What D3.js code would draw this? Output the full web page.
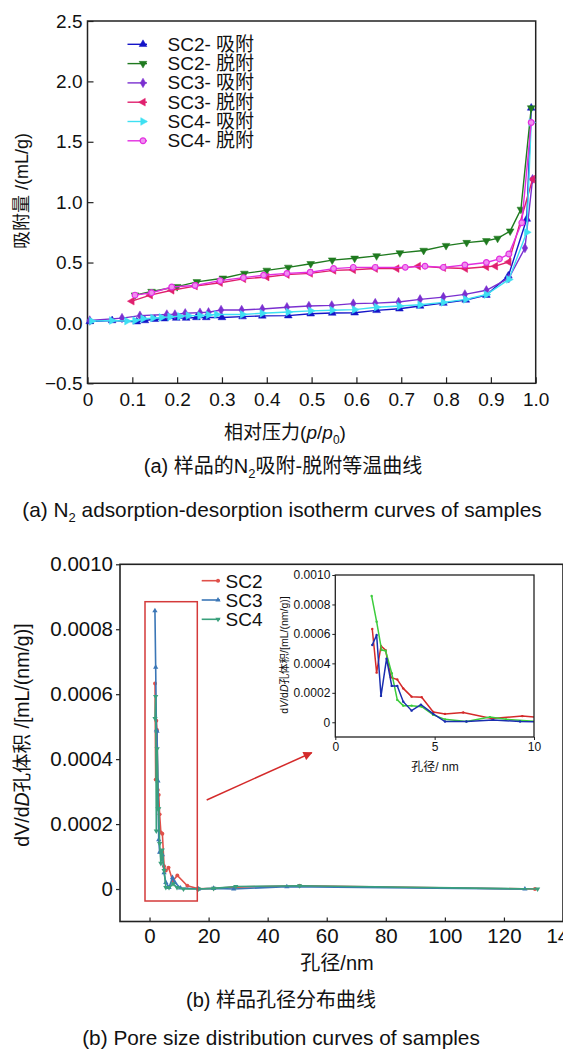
<!DOCTYPE html>
<html><head><meta charset="utf-8">
<script src="https://cdn.jsdelivr.net/npm/d3@7"></script>
<style>
body{margin:0;background:#fff;}
text{font-family:"Liberation Sans",Arial,"Noto Sans CJK SC",sans-serif;fill:#111;}
</style></head>
<body><svg id="c" width="563" height="1057"></svg>
<script>
// ---------- Data: (a) N2 isotherms ----------
const sc2AdsP = [0.005,0.055,0.11,0.128,0.15,0.172,0.198,0.22,0.243,0.265,0.30,0.346,0.39,0.448,0.498,0.546,0.596,0.645,0.696,0.742,0.794,0.844,0.89,0.939,0.98,0.99];
const sc2AdsV = [0.012,0.02,0.01,0.02,0.03,0.035,0.04,0.04,0.045,0.045,0.045,0.052,0.058,0.06,0.076,0.082,0.084,0.104,0.117,0.14,0.164,0.19,0.23,0.39,0.86,1.78];
const sc2DesP = [0.99,0.967,0.943,0.915,0.89,0.846,0.80,0.75,0.697,0.645,0.596,0.546,0.498,0.448,0.40,0.35,0.302,0.244,0.20,0.143,0.106];
const sc2DesV = [1.78,0.94,0.76,0.70,0.68,0.665,0.64,0.60,0.58,0.555,0.535,0.52,0.49,0.46,0.435,0.41,0.37,0.34,0.30,0.26,0.23];
const sc3AdsP = [0.005,0.077,0.117,0.177,0.195,0.218,0.251,0.27,0.298,0.344,0.39,0.445,0.494,0.545,0.593,0.642,0.694,0.742,0.794,0.842,0.89,0.94,0.976,0.993];
const sc3AdsV = [0.02,0.04,0.06,0.07,0.07,0.08,0.085,0.088,0.107,0.107,0.115,0.13,0.14,0.145,0.16,0.164,0.173,0.195,0.214,0.236,0.27,0.37,0.62,1.19];
const sc3DesP = [0.993,0.94,0.91,0.89,0.843,0.794,0.738,0.69,0.642,0.593,0.549,0.497,0.445,0.40,0.348,0.296,0.24,0.188,0.14,0.099];
const sc3DesV = [1.19,0.505,0.47,0.465,0.45,0.457,0.47,0.45,0.45,0.44,0.435,0.41,0.40,0.38,0.365,0.333,0.305,0.27,0.23,0.18];
const sc4AdsP = [0.009,0.054,0.088,0.106,0.124,0.146,0.165,0.184,0.206,0.225,0.251,0.27,0.288,0.346,0.39,0.448,0.498,0.546,0.596,0.645,0.696,0.742,0.794,0.844,0.89,0.94,0.98,0.99];
const sc4AdsV = [0.015,0.02,0.015,0.02,0.035,0.04,0.045,0.05,0.055,0.06,0.06,0.066,0.07,0.07,0.08,0.09,0.1,0.105,0.11,0.13,0.14,0.15,0.17,0.195,0.235,0.36,0.75,1.66];
const sc4DesP = [0.99,0.969,0.94,0.919,0.89,0.842,0.794,0.753,0.709,0.642,0.593,0.549,0.497,0.445,0.393,0.348,0.296,0.24,0.188,0.143,0.106];
const sc4DesV = [1.66,0.83,0.57,0.53,0.50,0.48,0.46,0.47,0.46,0.46,0.46,0.45,0.42,0.41,0.395,0.375,0.35,0.31,0.297,0.25,0.23];
const isoNames = ["SC2- 吸附","SC2- 脱附","SC3- 吸附","SC3- 脱附","SC4- 吸附","SC4- 脱附"];
const xTicksA = [0,0.1,0.2,0.3,0.4,0.5,0.6,0.7,0.8,0.9,1.0];
const yTicksA = [-0.5,0,0.5,1.0,1.5,2.0,2.5];

// ---------- Data: (b) pore size distribution ----------
const sc2Size = [1.86,2.08,2.30,2.53,2.80,3.12,3.42,3.84,4.35,4.93,5.52,6.44,7.87,9.41,12.8,16.6,21.7,29.2,50.8,130.5];
const sc2Dv   = [0.000633,0.000337,0.000518,0.00049,0.000305,0.00029,0.00023,0.000174,0.00017,0.00007,0.000057,0.000066,0.000025,0.000042,0.00001,0.000001,0.000002,0.000006,0.00001,0];
const sc3Size = [1.83,2.08,2.33,2.53,2.84,3.12,3.42,3.84,4.35,4.93,5.52,6.6,7.78,8.6,10.5,16.6,21.7,28.5,46.5,127.1];
const sc3Dv   = [0.000857,0.000683,0.00049,0.000486,0.000333,0.000152,0.000113,0.000113,0.000106,0.00005,0.00002,0.000005,0.000035,0.00002,0.000003,0,0.000002,0,0.000007,0];
const sc4Size = [1.86,2.08,2.30,2.58,2.84,3.12,3.42,3.84,4.31,4.93,5.52,6.6,7.95,9.3,11.5,16.6,21.7,29.2,50.8,131.4];
const sc4Dv   = [0.000525,0.000593,0.000179,0.000432,0.000247,0.000247,0.00014,0.000079,0.00012,0.000057,0.000005,0.000005,0.000016,0.000005,0,0,0.000002,0.000008,0.00001,0];
const psdNames = ["SC2","SC3","SC4"];
const xTicksB = [0,20,40,60,80,100,120,140];
const yTicksB = [0,0.0002,0.0004,0.0006,0.0008,0.0010];
const xTicksI = [0,5,10];

const svg = d3.select("#c");
const CJK = '"Liberation Sans",Arial,"Noto Sans CJK SC",sans-serif';

// ================= Chart (a) =================
const xA = d3.scaleLinear().domain([0,1]).range([87.5,535.7]);
const yA = d3.scaleLinear().domain([-0.5,2.5]).range([383.3,21]);
const gA = svg.append("g");
const fmtA = d=> d<0 ? "\u2212"+Math.abs(d).toFixed(1) : d.toFixed(1);
gA.append("g").attr("transform",`translate(0,${yA(-0.5)})`)
  .call(d3.axisBottom(xA).tickValues(xTicksA).tickSize(-6).tickPadding(9).tickFormat(d=> d===0?"0":d.toFixed(1)))
  .call(g=>g.select(".domain").remove());
gA.append("g").attr("transform",`translate(${xA(0)},0)`)
  .call(d3.axisLeft(yA).tickValues(yTicksA).tickSize(-6).tickPadding(5).tickFormat(fmtA))
  .call(g=>g.select(".domain").remove());
gA.selectAll(".tick text").attr("font-size",19).attr("font-family",CJK).attr("fill","#111");
gA.selectAll(".tick line").attr("stroke","#222").attr("stroke-width",1.2);
gA.append("rect").attr("x",xA(0)).attr("y",yA(2.5)).attr("width",xA(1)-xA(0)).attr("height",yA(-0.5)-yA(2.5))
  .attr("fill","none").attr("stroke","#222").attr("stroke-width",1.5);

const isoSeries = [
 {P:sc2AdsP,V:sc2AdsV,c:"#1414c8",sym:d3.symbolTriangle,rot:0,fill:null},
 {P:sc2DesP,V:sc2DesV,c:"#1f7a1f",sym:d3.symbolTriangle,rot:180,fill:null},
 {P:sc3AdsP,V:sc3AdsV,c:"#7a2fd0",sym:d3.symbolDiamond,rot:0,fill:null},
 {P:sc3DesP,V:sc3DesV,c:"#e0206e",sym:d3.symbolTriangle,rot:-90,fill:null},
 {P:sc4AdsP,V:sc4AdsV,c:"#3ee0f2",sym:d3.symbolTriangle,rot:90,fill:null},
 {P:sc4DesP,V:sc4DesV,c:"#e22ee0",sym:d3.symbolCircle,rot:0,fill:"#f08ef0"}
];
const lineA = d3.line().x(d=>xA(d[0])).y(d=>yA(d[1]));
isoSeries.forEach(s=>{
  const pts = s.P.map((p,i)=>[p,s.V[i]]);
  gA.append("path").attr("d",lineA(pts)).attr("fill","none").attr("stroke",s.c).attr("stroke-width",1.4);
  gA.selectAll(null).data(pts).enter().append("path")
    .attr("d",d3.symbol(s.sym,26)())
    .attr("transform",d=>`translate(${xA(d[0])},${yA(d[1])}) rotate(${s.rot})`)
    .attr("fill",s.fill||s.c).attr("stroke",s.c).attr("stroke-width",s.fill?1.2:0.5);
});
// legend (a)
isoSeries.forEach((s,i)=>{
  const y = 44.3 + i*19.3;
  gA.append("line").attr("x1",127.5).attr("x2",147).attr("y1",y).attr("y2",y).attr("stroke",s.c).attr("stroke-width",1.4);
  gA.append("path").attr("d",d3.symbol(s.sym,26)()).attr("transform",`translate(143,${y}) rotate(${s.rot})`)
    .attr("fill",s.fill||s.c).attr("stroke",s.c).attr("stroke-width",s.fill?1.2:0.5);
  gA.append("text").attr("x",167.5).attr("y",y+6.5).attr("font-size",19).text(isoNames[i]);
});
// axis titles (a)
gA.append("text").attr("transform","translate(28,191) rotate(-90)").attr("text-anchor","middle").attr("font-size",18)
  .attr("fill","#333").text("吸附量 /(mL/g)");
const xt = gA.append("text").attr("x",285).attr("y",439).attr("text-anchor","middle").attr("font-size",19);
xt.append("tspan").text("相对压力(");
xt.append("tspan").attr("font-style","italic").text("p");
xt.append("tspan").text("/");
xt.append("tspan").attr("font-style","italic").text("p");
xt.append("tspan").attr("font-size",12).attr("dy",5).text("0");
xt.append("tspan").attr("dy",-5).text(")");
// captions (a)
const c1 = svg.append("text").attr("x",283).attr("y",473).attr("text-anchor","middle").attr("font-size",20);
c1.append("tspan").text("(a) 样品的N");
c1.append("tspan").attr("font-size",13).attr("dy",5).text("2");
c1.append("tspan").attr("dy",-5).text("吸附-脱附等温曲线");
const c2 = svg.append("text").attr("x",282).attr("y",517).attr("text-anchor","middle").attr("font-size",20.8);
c2.append("tspan").text("(a) N");
c2.append("tspan").attr("font-size",13).attr("dy",5).text("2");
c2.append("tspan").attr("dy",-5).text(" adsorption-desorption isotherm curves of samples");

// ================= Chart (b) =================
const xB = d3.scaleLinear().domain([-10,140]).range([120,563]);
const yB = d3.scaleLinear().domain([-0.0001,0.001]).range([921.5,564.3]);
const gB = svg.append("g");
const fmtB = d=> d===0 ? "0" : d.toFixed(4);
gB.append("g").attr("transform",`translate(0,${yB(-0.0001)})`)
  .call(d3.axisBottom(xB).tickValues(xTicksB).tickSize(-4).tickPadding(7).tickFormat(d3.format("d")))
  .call(g=>g.select(".domain").remove());
gB.append("g").attr("transform",`translate(${xB(-10)},0)`)
  .call(d3.axisLeft(yB).tickValues(yTicksB).tickSize(4).tickPadding(3).tickFormat(fmtB))
  .call(g=>g.select(".domain").remove());
gB.selectAll(".tick text").attr("font-size",20.5).attr("font-family",CJK).attr("fill","#111");
gB.selectAll(".tick line").attr("stroke","#222").attr("stroke-width",1.2);
gB.append("rect").attr("x",xB(-10)).attr("y",yB(0.001)).attr("width",xB(140)-xB(-10)).attr("height",yB(-0.0001)-yB(0.001))
  .attr("fill","none").attr("stroke","#222").attr("stroke-width",1.6);

const psdSeries = [
 {S:sc2Size,D:sc2Dv,c:"#e0504a",ic:"#d42a2a",sym:d3.symbolCircle,rot:0},
 {S:sc3Size,D:sc3Dv,c:"#3a76b6",ic:"#3ccc3c",sym:d3.symbolTriangle,rot:0},
 {S:sc4Size,D:sc4Dv,c:"#3aa07c",ic:"#1a2eb0",sym:d3.symbolTriangle,rot:180}
];
const lineB = d3.line().x(d=>xB(d[0])).y(d=>yB(d[1]));
psdSeries.forEach(s=>{
  const pts = s.S.map((x,i)=>[x,s.D[i]]);
  gB.append("path").attr("d",lineB(pts)).attr("fill","none").attr("stroke",s.c).attr("stroke-width",1.6);
  gB.selectAll(null).data(pts).enter().append("path")
    .attr("d",d3.symbol(s.sym,12)())
    .attr("transform",d=>`translate(${xB(d[0])},${yB(d[1])}) rotate(${s.rot})`)
    .attr("fill",s.c);
});
// legend (b)
psdSeries.forEach((s,i)=>{
  const y = 580.7 + i*19.3;
  gB.append("line").attr("x1",201.7).attr("x2",220).attr("y1",y).attr("y2",y).attr("stroke",s.c).attr("stroke-width",1.6);
  gB.append("path").attr("d",d3.symbol(s.sym,12)()).attr("transform",`translate(218,${y}) rotate(${s.rot})`).attr("fill",s.c);
  gB.append("text").attr("x",225.5).attr("y",y+6.8).attr("font-size",19).text(psdNames[i]);
});
// highlight rect + arrow
gB.append("rect").attr("x",145).attr("y",601.7).attr("width",52.3).attr("height",299.3)
  .attr("fill","none").attr("stroke","#d43a3a").attr("stroke-width",1.5);
svg.append("defs").append("marker").attr("id","ah").attr("viewBox","0 0 10 10").attr("refX",9).attr("refY",5)
  .attr("markerWidth",7).attr("markerHeight",6).attr("orient","auto")
  .append("path").attr("d","M0,0 L10,5 L0,10 Z").attr("fill","#d42a2a");
gB.append("line").attr("x1",206.7).attr("y1",800).attr("x2",311.7).attr("y2",752.7)
  .attr("stroke","#d42a2a").attr("stroke-width",1.5).attr("marker-end","url(#ah)");
// axis titles (b)
const yb = gB.append("text").attr("transform","translate(29,735) rotate(-90)").attr("text-anchor","middle").attr("font-size",19.5);
yb.append("tspan").text("dV/d");
yb.append("tspan").attr("font-style","italic").text("D");
yb.append("tspan").text("孔体积 /[mL/(nm/g)]");
gB.append("text").attr("x",337).attr("y",970).attr("text-anchor","middle").attr("font-size",20).text("孔径/nm");
// captions (b)
svg.append("text").attr("x",281).attr("y",1007).attr("text-anchor","middle").attr("font-size",20).text("(b) 样品孔径分布曲线");
svg.append("text").attr("x",281).attr("y",1045).attr("text-anchor","middle").attr("font-size",20.8).text("(b) Pore size distribution curves of samples");

// ================= Inset =================
const xI = d3.scaleLinear().domain([0,10]).range([335.3,534]);
const yI = d3.scaleLinear().domain([-0.0001,0.001]).range([737,575]);
const gI = svg.append("g");
gI.append("rect").attr("x",xI(0)).attr("y",yI(0.001)).attr("width",xI(10)-xI(0)).attr("height",yI(-0.0001)-yI(0.001)).attr("fill","#fff");
svg.select("defs").append("clipPath").attr("id","ic").append("rect")
  .attr("x",xI(0)).attr("y",yI(0.001)).attr("width",xI(10)-xI(0)).attr("height",yI(-0.0001)-yI(0.001));
gI.append("g").attr("transform",`translate(0,${yI(-0.0001)})`)
  .call(d3.axisBottom(xI).tickValues(xTicksI).tickSize(3).tickPadding(2).tickFormat(d3.format("d")))
  .call(g=>g.select(".domain").remove());
gI.append("g").attr("transform",`translate(${xI(0)},0)`)
  .call(d3.axisLeft(yI).tickValues(yTicksB).tickSize(3).tickPadding(2).tickFormat(fmtB))
  .call(g=>g.select(".domain").remove());
gI.selectAll(".tick text").attr("font-size",12).attr("font-family",CJK).attr("fill","#222");
gI.selectAll(".tick line").attr("stroke","#222");
const lineI = d3.line().x(d=>xI(d[0])).y(d=>yI(d[1]));
const gIc = gI.append("g").attr("clip-path","url(#ic)");
psdSeries.forEach(s=>{
  const pts = s.S.map((x,i)=>[x,s.D[i]]);
  gIc.append("path").attr("d",lineI(pts)).attr("fill","none").attr("stroke",s.ic).attr("stroke-width",1.5);
  gIc.selectAll(null).data(pts).enter().append("circle").attr("cx",d=>xI(d[0])).attr("cy",d=>yI(d[1])).attr("r",1.2).attr("fill",s.ic);
});
gI.append("rect").attr("x",xI(0)).attr("y",yI(0.001)).attr("width",xI(10)-xI(0)).attr("height",yI(-0.0001)-yI(0.001))
  .attr("fill","none").attr("stroke","#222").attr("stroke-width",1.3);
const yi = gI.append("text").attr("transform","translate(288,655) rotate(-90)").attr("text-anchor","middle").attr("font-size",10.5).attr("fill","#333");
yi.append("tspan").text("d");
yi.append("tspan").attr("font-style","italic").text("V");
yi.append("tspan").text("/d");
yi.append("tspan").attr("font-style","italic").text("D");
yi.append("tspan").text("孔体积/[mL/(nm/g)]");
gI.append("text").attr("x",435).attr("y",771).attr("text-anchor","middle").attr("font-size",12).attr("fill","#333").text("孔径/ nm");
</script></body></html>
